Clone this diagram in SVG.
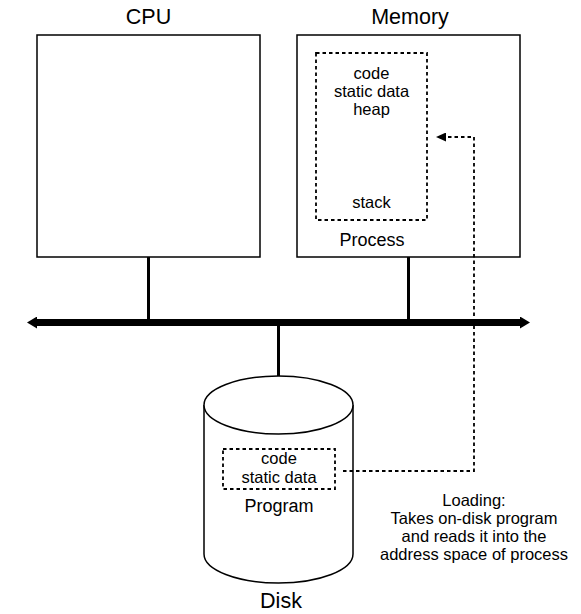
<svg xmlns="http://www.w3.org/2000/svg" width="581" height="614" viewBox="0 0 581 614">
<style>
text{font-family:"Liberation Sans",Arial,sans-serif;fill:#000;text-anchor:middle}
.big{font-size:21.5px}
.mid{font-size:18px}
.sm{font-size:16.5px}
.box{fill:#fff;stroke:#000;stroke-width:1.5}
.dash{fill:none;stroke:#000;stroke-width:1.8;stroke-dasharray:3.5,3}
.conn{stroke:#000;stroke-width:3;fill:none}
</style>
<defs>
<marker id="busHead" viewBox="0 0 10 12" refX="0" refY="6" markerWidth="10" markerHeight="12" markerUnits="userSpaceOnUse" orient="auto-start-reverse">
<path d="M0,0 L10,6 L0,12 Z" fill="#000"/>
</marker>
<marker id="dashHead" viewBox="0 0 10 9" refX="0" refY="4.5" markerWidth="10" markerHeight="9" markerUnits="userSpaceOnUse" orient="auto">
<path d="M0,0 L10,4.5 L0,9 Z" fill="#000"/>
</marker>
</defs>
<g id="cpu">
<rect class="box" x="37" y="35" width="223" height="222"/>
<text class="big" x="148.5" y="24">CPU</text>
</g>
<g id="memory">
<rect class="box" x="297" y="35" width="223" height="222"/>
<text class="big" x="410" y="24">Memory</text>
<g id="process">
<rect class="dash" x="316" y="53" width="111" height="167"/>
<text class="sm" x="371.5" y="79">code</text>
<text class="sm" x="371.5" y="97">static data</text>
<text class="sm" x="371.5" y="115">heap</text>
<text class="sm" x="371.5" y="208">stack</text>
<text class="mid" x="372" y="246">Process</text>
</g>
</g>
<g id="disk">
<path class="box" d="M204,405 L204,554 A74.5,29 0 0 0 353,554 L353,405"/>
<ellipse class="box" cx="278.5" cy="405" rx="74.5" ry="29"/>
<g id="program">
<rect class="dash" x="223" y="449" width="112" height="40"/>
<text class="sm" x="279" y="464">code</text>
<text class="sm" x="279" y="483">static data</text>
<text class="mid" x="279" y="512">Program</text>
</g>
<text class="big" x="281" y="608">Disk</text>
</g>
<g id="bus">
<line x1="37" y1="322.5" x2="520" y2="322.5" stroke="#000" stroke-width="7" marker-start="url(#busHead)" marker-end="url(#busHead)"/>
</g>
<g id="connectors">
<line class="conn" x1="148.5" y1="257" x2="148.5" y2="322"/>
<line class="conn" x1="408.5" y1="257" x2="408.5" y2="322"/>
<line class="conn" x1="278.5" y1="322" x2="278.5" y2="376"/>
<path class="dash" d="M343,471 L474,471 L474,137 L446,137" marker-end="url(#dashHead)"/>
</g>
<g id="note">
<text class="sm" x="474" y="506">Loading:</text>
<text class="sm" x="474" y="524">Takes on-disk program</text>
<text class="sm" x="474" y="542">and reads it into the</text>
<text class="sm" x="474" y="560">address space of process</text>
</g>
</svg>
